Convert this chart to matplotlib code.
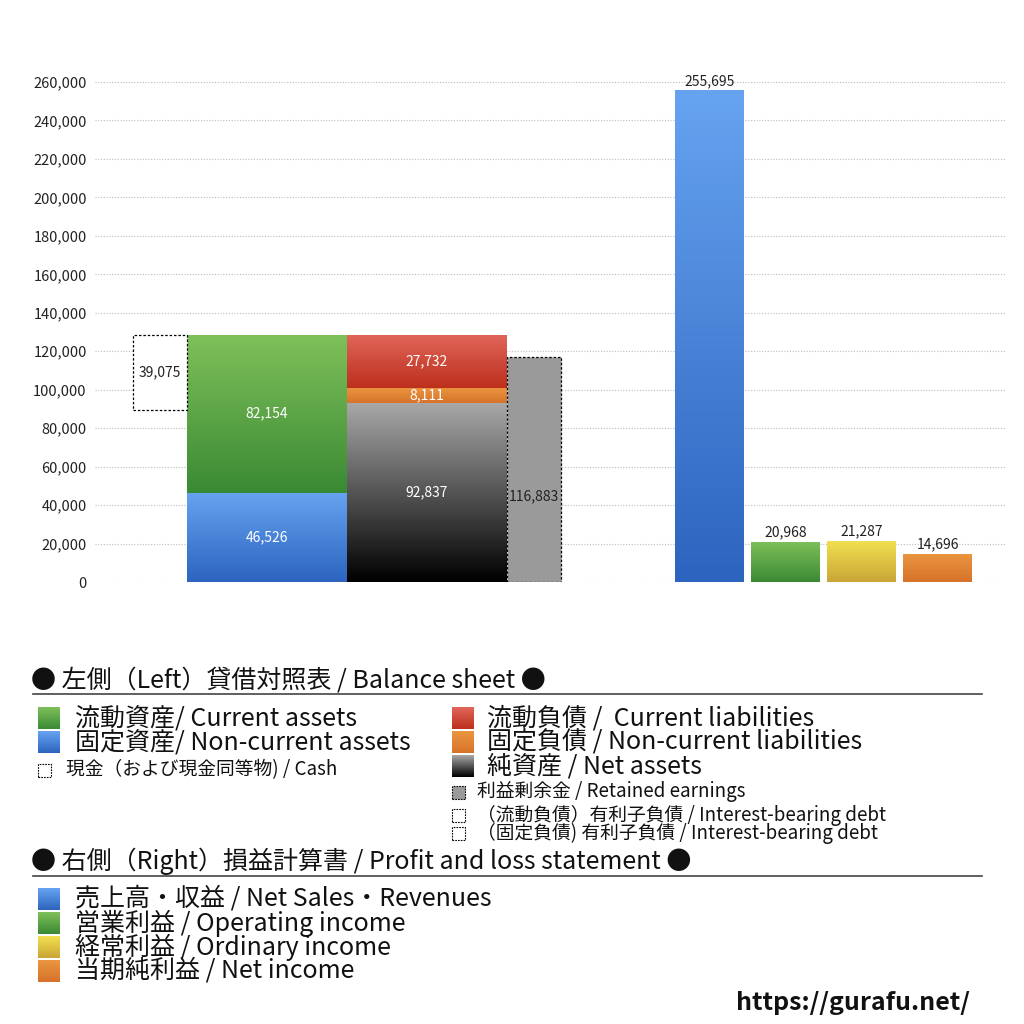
"""Balance sheet (left) and P&L (right) bars with gradient fills, gurafu.net style."""

import numpy as np
import matplotlib
matplotlib.use("Agg")
import matplotlib.pyplot as plt
from matplotlib.colors import LinearSegmentedColormap
from matplotlib.patches import Rectangle

plt.rcParams["font.family"] = ["Noto Sans CJK JP", "DejaVu Sans"]

# --- data (million yen) ---
cash = 39075
non_current_assets = 46526
current_assets = 82154
net_assets = 92837
non_current_liab = 8111
current_liab = 27732
retained_earnings = 116883

pl_labels = ["売上高・収益", "営業利益", "経常利益", "当期純利益"]
pl_values = [255695, 20968, 21287, 14696]

yticks = np.arange(0, 260001, 20000)

# --- colours (top, bottom) ---
BLUE = ("#66a3f0", "#2c64bf")
GREEN = ("#7fc05a", "#3a8a34")
RED = ("#e0665a", "#bd2f1d")
ORANGE = ("#eb9640", "#d6732a")
BLACK = ("#a8a8a8", "#000000")
YELLOW = ("#f2e050", "#c9a536")
pl_colors = [BLUE, GREEN, YELLOW, ORANGE]

BIG, SMALL = 18, 13.5


def grad_bar(ax, x, h, w, bottom, cols):
    bar = ax.bar(x, h, w, bottom=bottom, color="none", linewidth=0)[0]
    cmap = LinearSegmentedColormap.from_list("g", [cols[1], cols[0]])
    grad = np.linspace(0, 1, 256).reshape(-1, 1)
    im = ax.imshow(grad, cmap=cmap, aspect="auto", origin="lower",
                   extent=[x - w / 2, x + w / 2, bottom, bottom + h], zorder=2)
    im.set_clip_path(bar)
    return bar


def label(ax, x, y, v, color="white"):
    ax.text(x, y, f"{v:,}", ha="center", va="center", fontsize=10,
            color=color, zorder=5)


fig = plt.figure(figsize=(10.24, 10.24), dpi=100)
ax = fig.add_axes([95 / 1024, 1 - 582 / 1024, 910 / 1024, 520 / 1024])
ax.set_xlim(95, 1005)
ax.set_ylim(0, 260000 * 520 / 500)

# balance sheet
xa, xl, wbs = 267, 427, 160
grad_bar(ax, xa, non_current_assets, wbs, 0, BLUE)
grad_bar(ax, xa, current_assets, wbs, non_current_assets, GREEN)
grad_bar(ax, xl, net_assets, wbs, 0, BLACK)
grad_bar(ax, xl, non_current_liab, wbs, net_assets, ORANGE)
grad_bar(ax, xl, current_liab, wbs, net_assets + non_current_liab, RED)

total = non_current_assets + current_assets
ax.bar(160, cash, 54, bottom=total - cash, facecolor="white",
       edgecolor="black", linestyle=(0, (2, 1.5)), linewidth=0.9, zorder=3)
ax.bar(534, retained_earnings, 54, facecolor="#9a9a9a",
       edgecolor="black", linestyle=(0, (2, 1.5)), linewidth=0.9, zorder=3)

label(ax, xa, non_current_assets / 2, non_current_assets)
label(ax, xa, non_current_assets + current_assets / 2, current_assets)
label(ax, xl, net_assets / 2, net_assets)
label(ax, xl, net_assets + non_current_liab / 2, non_current_liab)
label(ax, xl, net_assets + non_current_liab + current_liab / 2, current_liab)
label(ax, 160, total - cash / 2, cash, "#222222")
label(ax, 534, retained_earnings * 0.38, retained_earnings, "#222222")

# profit and loss
pl_x = [709.5, 785.5, 861.5, 937.5]
for x, v, c in zip(pl_x, pl_values, pl_colors):
    grad_bar(ax, x, v, 69, 0, c)
    ax.text(x, v + 1200, f"{v:,}", ha="center", va="bottom", fontsize=10,
            color="#222222")

ax.set_yticks(yticks)
ax.set_yticklabels([f"{t:,}" for t in yticks], fontsize=10.5, color="#222222")
ax.set_xticks([])
ax.tick_params(axis="y", length=0, pad=6)
ax.grid(axis="y", color="#bbbbbb", linestyle=(0, (1, 1.5)), linewidth=0.8)
ax.set_axisbelow(True)
for s in ax.spines.values():
    s.set_visible(False)

# --- legend area, laid out in figure pixels ---
def px(x, y):
    return x / 1024, 1 - y / 1024


def swatch(x, y, cols, size=22, dashed=False, fill=None):
    x0, y0 = px(x, y + size / 2)
    w, h = size / 1024, size / 1024
    if dashed:
        r = Rectangle((x0, y0), w, h, transform=fig.transFigure,
                      facecolor=fill or "white", edgecolor="black",
                      linestyle=(0, (1.5, 1)), linewidth=0.8)
        fig.add_artist(r)
        return
    cmap = LinearSegmentedColormap.from_list("s", [cols[1], cols[0]])
    a = fig.add_axes([x0, y0, w, h])
    a.imshow(np.linspace(0, 1, 64).reshape(-1, 1), cmap=cmap, aspect="auto",
             origin="lower")
    a.axis("off")


def txt(x, y, s, size=BIG, **kw):
    fig.text(*px(x, y), s, fontsize=size, va="center", ha="left",
             color="#111111", **kw)


txt(31, 680, "● 左側（Left）貸借対照表 / Balance sheet ●")
fig.add_artist(plt.Line2D([33 / 1024, 982 / 1024], [1 - 694 / 1024] * 2,
                          transform=fig.transFigure, color="#444444", lw=1.2))

swatch(38, 718, GREEN)
txt(75, 718, "流動資産/ Current assets")
swatch(38, 742, BLUE)
txt(75, 742, "固定資産/ Non-current assets")
swatch(38, 770, None, size=13, dashed=True)
txt(66, 770, "現金（および現金同等物) / Cash", SMALL)

swatch(452, 718, RED)
txt(487, 718, "流動負債 /  Current liabilities")
swatch(452, 742, ORANGE)
txt(487, 742, "固定負債 / Non-current liabilities")
swatch(452, 766, BLACK)
txt(487, 766, "純資産 / Net assets")
swatch(452, 792, None, size=13, dashed=True, fill="#9a9a9a")
txt(477, 792, "利益剰余金 / Retained earnings", SMALL)
swatch(452, 815, None, size=13, dashed=True)
txt(477, 815, "（流動負債）有利子負債 / Interest-bearing debt", SMALL)
swatch(452, 833, None, size=13, dashed=True)
txt(477, 833, "（固定負債) 有利子負債 / Interest-bearing debt", SMALL)

txt(31, 861, "● 右側（Right）損益計算書 / Profit and loss statement ●")
fig.add_artist(plt.Line2D([33 / 1024, 982 / 1024], [1 - 876 / 1024] * 2,
                          transform=fig.transFigure, color="#444444", lw=1.2))

pl_names = ["Net Sales・Revenues", "Operating income", "Ordinary income",
            "Net income"]
for i, (jp, en, c) in enumerate(zip(pl_labels, pl_names, pl_colors)):
    y = 899 + 24 * i
    swatch(38, y, c)
    txt(75, y, f"{jp} / {en}")

fig.text(*px(970, 1003), "https://gurafu.net/", fontsize=18, fontweight="bold",
         ha="right", va="center", color="#111111")

fig.savefig("out.png", dpi=100)
